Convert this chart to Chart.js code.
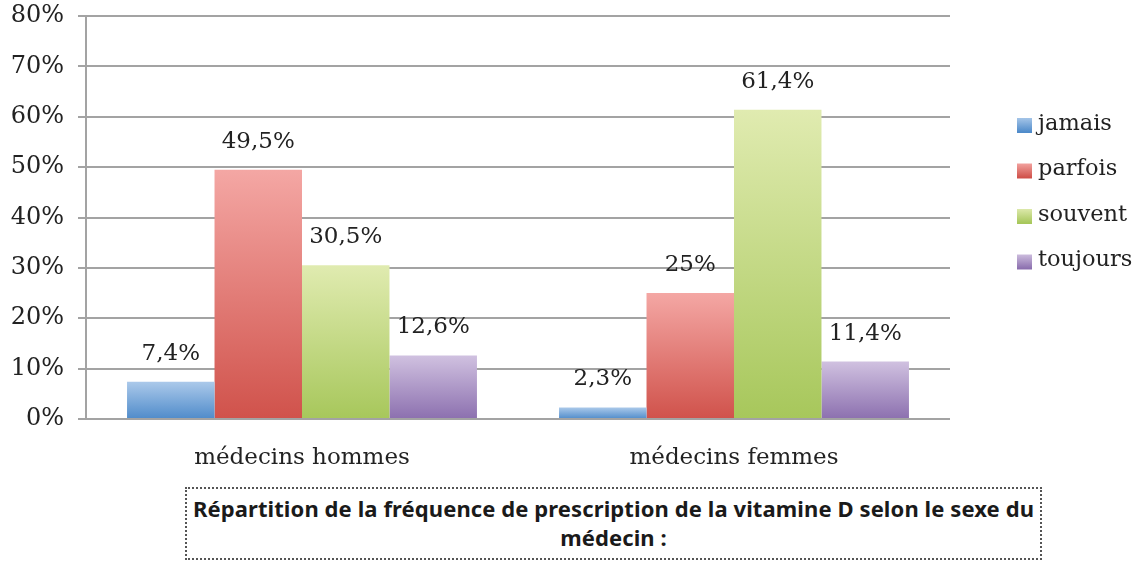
<!DOCTYPE html>
<html>
<head>
<meta charset="utf-8">
<script src="https://cdn.jsdelivr.net/npm/chart.js@4"></script>
<style>
  body { margin: 0; background: #fff; }
  #wrap { position: relative; width: 1140px; height: 485px; }
  #title {
    position: absolute; left: 185px; top: 487px; width: 857px; height: 73px;
    border: 2px dotted #555; box-sizing: border-box;
    font-family: "Noto Sans", sans-serif; font-weight: bold; font-size: 22px;
    line-height: 29px; text-align: center; color: #1a1a1a; padding-top: 5px;
    letter-spacing: 0.1px; white-space: nowrap;
  }
</style>
</head>
<body>
<div id="wrap"><canvas id="chart"></canvas></div>
<div id="title">Répartition de la fréquence de prescription de la vitamine D selon le sexe du<br>médecin :</div>
<script>
// données
const categories = ['médecins hommes', 'médecins femmes'];
const seriesNames = ['jamais', 'parfois', 'souvent', 'toujours'];
const jamais = [7.4, 2.3];
const parfois = [49.5, 25];
const souvent = [30.5, 61.4];
const toujours = [12.6, 11.4];
const yTicks = [0, 10, 20, 30, 40, 50, 60, 70, 80];

// couleurs haut / bas du dégradé
const colors = [
  ['#abc9ea', '#4f8bca'],
  ['#f4a7a4', '#d0524b'],
  ['#e0ebb0', '#a7c75b'],
  ['#d0c1e0', '#8c70af']
];

const serif = '"DejaVu Serif", serif';

function gradientFor(i) {
  return function (ctx) {
    const chart = ctx.chart;
    if (!chart.chartArea || ctx.type !== 'data') return colors[i][1];
    const y = chart.scales.y;
    const top = y.getPixelForValue(ctx.raw);
    const bottom = y.getPixelForValue(0);
    const g = chart.ctx.createLinearGradient(0, top, 0, bottom);
    g.addColorStop(0, colors[i][0]);
    g.addColorStop(1, colors[i][1]);
    return g;
  };
}

const allSeries = [jamais, parfois, souvent, toujours];

const valueLabels = {
  id: 'valueLabels',
  afterDatasetsDraw(chart) {
    const c = chart.ctx;
    c.save();
    c.font = '23px ' + serif;
    c.fillStyle = '#222';
    c.textAlign = 'center';
    c.textBaseline = 'middle';
    chart.data.datasets.forEach((ds, i) => {
      chart.getDatasetMeta(i).data.forEach((bar, j) => {
        const txt = String(ds.data[j]).replace('.', ',') + '%';
        c.fillText(txt, bar.x, bar.y - 28);
      });
    });
    c.restore();
  }
};

const sideLegend = {
  id: 'sideLegend',
  afterDraw(chart) {
    const c = chart.ctx;
    const x = chart.chartArea.right + 67;
    c.save();
    c.font = '22.5px ' + serif;
    c.textBaseline = 'middle';
    seriesNames.forEach((name, i) => {
      const y = 124 + i * 45.5;
      const g = c.createLinearGradient(0, y - 7, 0, y + 8);
      g.addColorStop(0, colors[i][0]);
      g.addColorStop(1, colors[i][1]);
      c.fillStyle = g;
      c.fillRect(x, y - 6, 15, 15);
      c.fillStyle = '#222';
      c.fillText(name, x + 21, y);
    });
    c.restore();
  }
};

new Chart(document.getElementById('chart'), {
  type: 'bar',
  data: {
    labels: categories,
    datasets: seriesNames.map((name, i) => ({
      label: name,
      data: allSeries[i],
      backgroundColor: gradientFor(i),
      categoryPercentage: 0.81,
      barPercentage: 1,
      borderWidth: 0
    }))
  },
  options: {
    responsive: true,
    maintainAspectRatio: false,
    animation: false,
    layout: { padding: { top: 16, right: 190, left: 0, bottom: 0 } },
    plugins: { legend: { display: false }, tooltip: { enabled: false } },
    scales: {
      x: {
        grid: { display: false },
        border: { display: false },
        ticks: { font: { family: serif, size: 23 }, color: '#222', padding: 17 },
        afterFit: s => { s.height = 66; }
      },
      y: {
        min: 0, max: 80,
        afterBuildTicks: s => { s.ticks = yTicks.map(v => ({ value: v })); },
        grid: { color: '#a3a3a3', lineWidth: 2, tickLength: 8 },
        border: { color: '#a3a3a3', width: 2 },
        ticks: {
          font: { family: serif, size: 24 }, color: '#222', padding: 14,
          callback: v => v + '%'
        },
        afterFit: s => { s.width = 86; s.paddingTop = 0; s.paddingBottom = 0; }
      }
    }
  },
  plugins: [valueLabels, sideLegend]
});
</script>
</body>
</html>
